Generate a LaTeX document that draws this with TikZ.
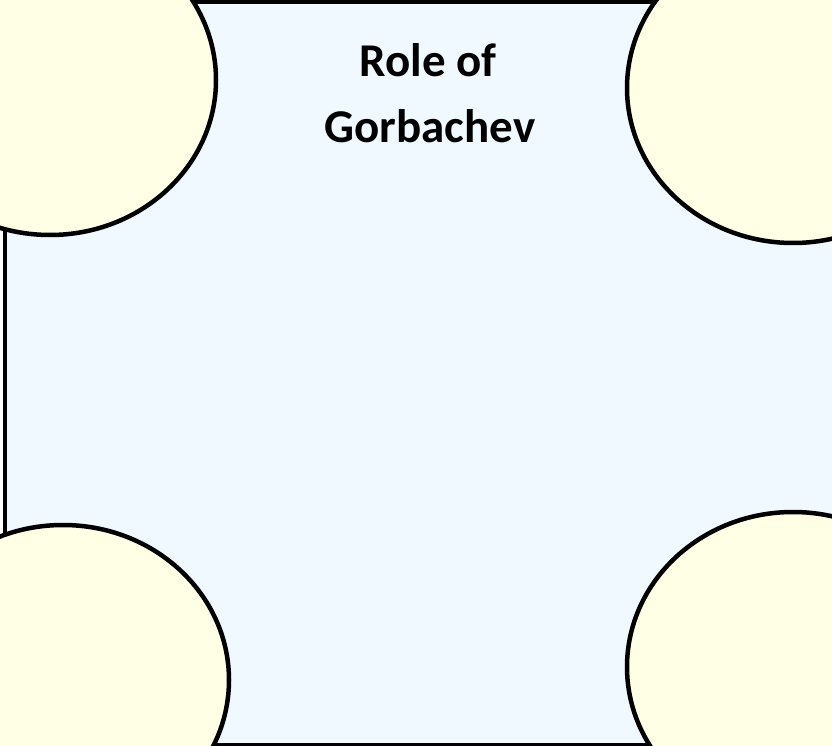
\documentclass[tikz,border=0pt]{standalone}
\usepackage{fontspec}
\setmainfont{Carlito}
\usetikzlibrary{shapes.geometric}
\definecolor{panelblue}{HTML}{EFF9FF}
\definecolor{bubbleyellow}{HTML}{FFFFE6}
\tikzset{
  panel/.style={draw=black, line width=4.5pt, fill=panelblue},
  bubble/.style={ellipse, draw=black, line width=4.5pt, fill=bubbleyellow,
    minimum width=332pt, minimum height=310pt, inner sep=0pt},
  titletext/.style={anchor=base, inner sep=0pt, font=\fontsize{47}{56}\selectfont\bfseries}
}
\begin{document}
\begin{tikzpicture}[x=1pt,y=1pt]
\useasboundingbox (0,0) rectangle (832,745);
\clip (0,0) rectangle (832,745);
\draw[panel] (5,0) rectangle (860,743);
\node[bubble] (tl) at (50,665) {};
\node[bubble] (tr) at (793,657) {};
\node[bubble] (bl) at (63,65) {};
\node[bubble] (br) at (793,78) {};
\node[titletext] (t1) at (428,668) {Role of};
\node[titletext] (t2) at (430,602) {Gorbachev};
\end{tikzpicture}
\end{document}
